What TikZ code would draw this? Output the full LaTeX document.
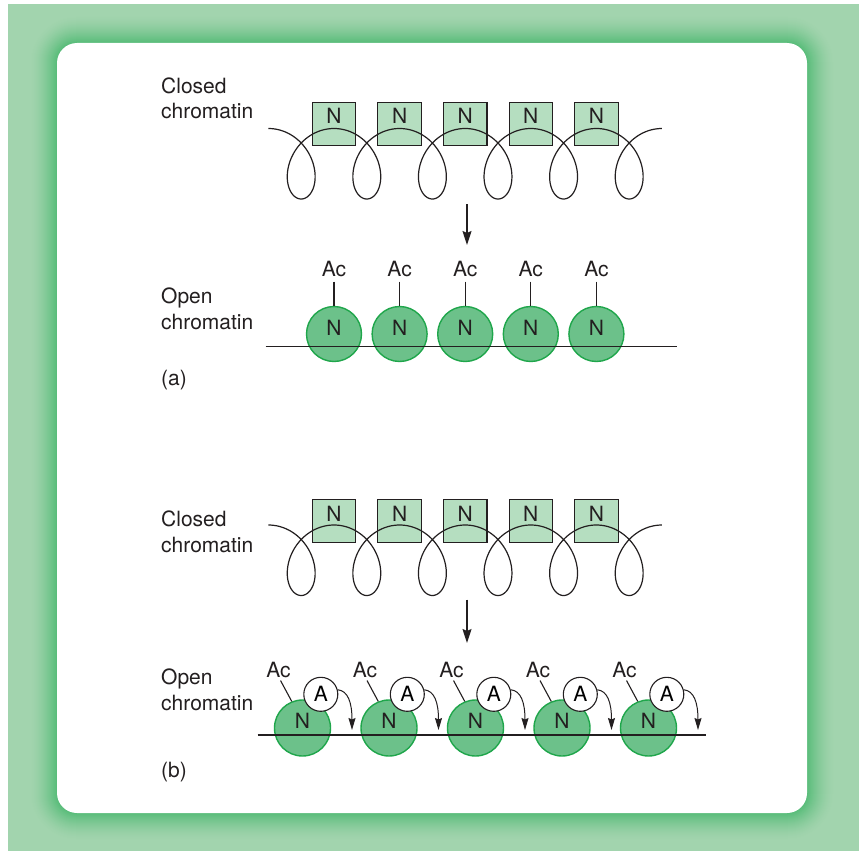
\documentclass[tikz,border=0pt]{standalone}
\usepackage{fontspec}
\setmainfont{TeX Gyre Heros}
\usetikzlibrary{arrows.meta}

\definecolor{frameLight}{HTML}{A2D4AE}
\definecolor{frameDark}{HTML}{56BC78}
\definecolor{boxFill}{HTML}{B5DEC0}
\definecolor{beadFill}{HTML}{6CC18A}
\definecolor{beadEdge}{HTML}{1FA64B}
\definecolor{ink}{HTML}{231F20}

\tikzset{
  caption/.style={anchor=base west, inner sep=0pt, text=ink},
  boxN/.style={draw=ink, fill=boxFill, line width=1.1pt, minimum size=43.5pt, inner sep=0pt},
  bead/.style={circle, draw=beadEdge, fill=beadFill, line width=1.4pt, inner sep=0pt},
  acet/.style={circle, draw=ink, fill=white, line width=1.1pt, minimum size=34pt, inner sep=0pt},
  tag/.style={inner sep=0pt, text=ink},
  dna/.style={draw=ink, line width=1.2pt},
  flow/.style={draw=ink, line width=1.3pt, -{Stealth[length=14pt, width=9pt, inset=2pt]}},
  hop/.style={draw=ink, line width=1.0pt, -{Stealth[length=12pt, width=7pt, inset=1.5pt]}},
}

\begin{document}
\begin{tikzpicture}[x=1pt, y=-1pt, font=\fontsize{21}{25}\selectfont]
\useasboundingbox (0,0) rectangle (859,851);

% ---- frame with soft green glow ----
\fill[frameLight] (8,4) rectangle (859,851);
\foreach \k in {0,...,28}{
  \pgfmathsetmacro\g{100*(\k/28)^1.6}
  \pgfmathsetmacro\r{20+28-\k}
  \fill[frameDark!\g!frameLight, rounded corners=\r pt]
    ({57-28+\k},{43-28+\k}) rectangle ({807+28-\k},{813+28-\k});
}
\fill[white, rounded corners=20pt] (57,43) rectangle (807,813);

% ================= (a) =================
\node[caption] (closedA1) at (161,93) {Closed};
\node[caption] (closedA2) at (161,118.5) {chromatin};

\foreach \i in {1,...,5}{
  \node[boxN] (sqA\i) at ({268.4+65.6*\i},124) {};
  \node[tag] (sqnA\i) at ({268.4+65.6*\i},116) {N};
}
% coiled fibre
\draw[dna] plot[domain=-pi:11*pi, samples=700, variable=\t, smooth]
  ({301.2+10.44*\t-28.4*sin(\t r)},{163.75+35.25*cos(\t r)});

\coordinate (arA0) at (467,204);
\coordinate (arA1) at (467,245);
\draw[flow] (arA0) -- (arA1);

\node[caption] (openA1) at (161,303.5) {Open};
\node[caption] (openA2) at (161,329) {chromatin};

\foreach \i in {1,...,5}{
  \node[bead, minimum size=55pt] (bA\i) at ({268.4+65.6*\i},334) {};
  \node[tag] (bnA\i) at ({268.4+65.6*\i},327.5) {N};
  \node[tag, inner ysep=5pt] (acA\i) at ({268.4+65.6*\i},268.7) {Ac};
  \draw[ink, line width=1.1pt] (acA\i.south) -- (bA\i.north);
}
\coordinate (dnaA0) at (265.5,346.8);
\coordinate (dnaA1) at (676.7,346.8);
\draw[dna] (dnaA0) -- (dnaA1);

\node[caption] (capA) at (161,385) {(a)};

% ================= (b) =================
\node[caption] (closedB1) at (161,526.6) {Closed};
\node[caption] (closedB2) at (161,552) {chromatin};

\foreach \i in {1,...,5}{
  \node[boxN] (sqB\i) at ({268.4+65.6*\i},521) {};
  \node[tag] (sqnB\i) at ({268.4+65.6*\i},513.5) {N};
}
\draw[dna] plot[domain=-pi:11*pi, samples=700, variable=\t, smooth]
  ({301.2+10.44*\t-28.4*sin(\t r)},{560.25+35.25*cos(\t r)});

\coordinate (arB0) at (467,599.6);
\coordinate (arB1) at (467,643);
\draw[flow] (arB0) -- (arB1);

\node[caption] (openB1) at (161,684.5) {Open};
\node[caption] (openB2) at (161,710.5) {chromatin};

\foreach \i in {1,...,5}{
  \node[bead, minimum size=56pt] (bB\i) at ({216+86.5*\i},728) {};
  \node[tag] (bnB\i) at ({216+86.5*\i},720.5) {N};
  \node[tag, inner ysep=2.5pt] (acB\i) at ({192+86.5*\i},670) {Ac};
  \draw[ink, line width=1.1pt] ([xshift=2pt]acB\i.south) -- (bB\i.112);
  \node[acet] (aB\i) at ({234.3+86.5*\i},694.3) {A};
  \coordinate (tipB\i) at ({265.5+86.5*\i},730);
  \draw[hop] (aB\i.15) .. controls +(10,1) and +(0,-28) .. (tipB\i);
}
\coordinate (dnaB0) at (257.7,735);
\coordinate (dnaB1) at (706.4,735);
\draw[dna] (dnaB0) -- (dnaB1);

\node[caption] (capB) at (161,777) {(b)};
\end{tikzpicture}
\end{document}
